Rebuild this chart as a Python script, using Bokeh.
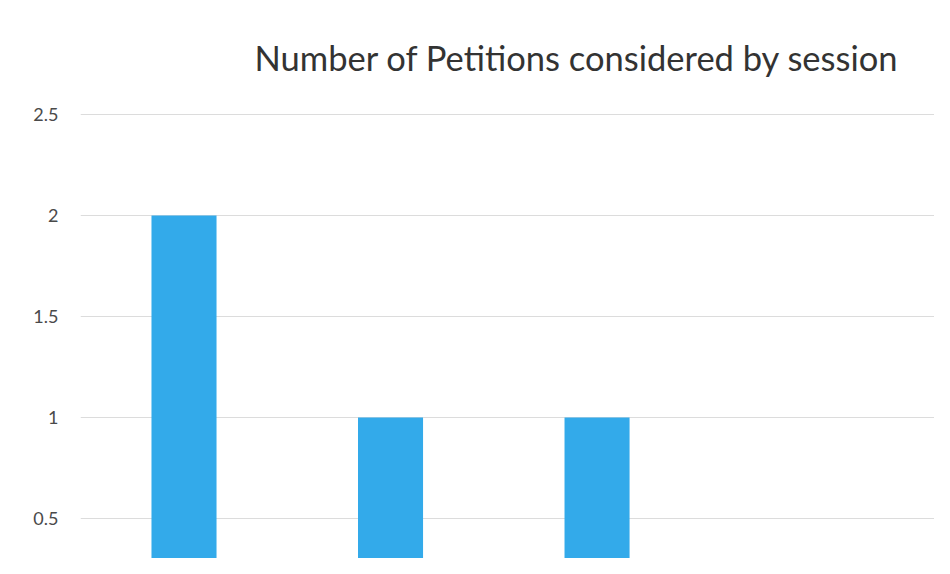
from bokeh.plotting import figure
from bokeh.models import FixedTicker, Range1d
from bokeh.embed import file_html
from bokeh.resources import INLINE

# Data
sessions = [1, 2, 3, 4]
petitions = [2, 1, 1, 0]
y_ticks = [0.5, 1, 1.5, 2, 2.5]
y_tick_labels = ["0.5", "1", "1.5", "2", "2.5"]
title_text = "Number of Petitions considered by session"

BAR = "#33AAEA"
GRID = "#DCDCDC"
TXT = "#4A4A4A"

p = figure(width=934, height=558, output_backend="svg", toolbar_location=None,
           x_range=Range1d(0.4988, 4.634), y_range=Range1d(0.302, 2.5198),
           min_border_left=80, min_border_right=0, min_border_top=110,
           min_border_bottom=0)

p.vbar(x=sessions, top=petitions, bottom=0, width=0.315, color=BAR, line_color=None)

p.title.text = title_text
p.title.text_font = "Lato"
p.title.text_font_size = "34.5px"
p.title.text_font_style = "normal"
p.title.text_color = "#333333"
p.title.align = "left"
p.title.offset = 174
p.title.standoff = 66

p.xaxis.visible = False
p.xgrid.visible = False
p.ygrid.grid_line_color = GRID
p.ygrid.grid_line_width = 1

ya = p.yaxis[0]
ya.ticker = FixedTicker(ticks=y_ticks)
ya.major_label_overrides = {t: l for t, l in zip(y_ticks, y_tick_labels)}
ya.axis_line_color = None
ya.major_tick_line_color = None
ya.major_tick_out = 0
ya.major_tick_in = 0
ya.minor_tick_line_color = None
ya.major_label_standoff = 22
ya.major_label_text_font = "Lato"
ya.major_label_text_font_size = "18px"
ya.major_label_text_color = TXT
p.ygrid.ticker = FixedTicker(ticks=y_ticks)

p.outline_line_color = None
p.background_fill_color = "white"
p.border_fill_color = "white"

open("out.html", "w").write(file_html(p, INLINE))
